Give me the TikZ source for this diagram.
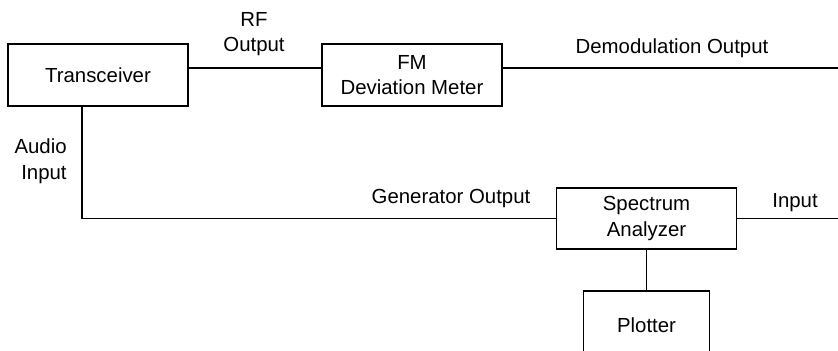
\documentclass[tikz,border=0pt]{standalone}
\usepackage{fontspec}
\setmainfont{Liberation Sans}
\usetikzlibrary{positioning}

\begin{document}
\begin{tikzpicture}[block/.style={draw, line width=0.7pt, minimum width=3.6cm,
                        minimum height=1.24cm, align=center},
                    wire/.style={line width=0.7pt},
                    lbl/.style={align=center, inner sep=0pt},
                    font=\fontsize{11.6}{14.6}\selectfont]
      \clip (0,0) rectangle (16.76,7);
      % Blocks
      \node (trans) [block] at (1.96,5.5) {Transceiver};
      \node (fm) [block] at (8.24,5.5) {FM\\Deviation Meter};
      \node (spec) [block, minimum height=1.22cm] at (12.93,2.63) {Spectrum\\Analyzer};
      \node (plot) [block, minimum width=2.52cm, minimum height=1.36cm] at (12.93,0.5) {Plotter};
      % Free ends at the right edge
      \coordinate (demodout) at (16.9,5.64);
      \coordinate (specin) at (16.9,2.63);
      % Connections
      \draw[wire] ([yshift=0.14cm]trans.east) -- ([yshift=0.14cm]fm.west);
      \draw[wire] ([yshift=0.14cm]fm.east) -- (demodout);
      \draw[wire] ([xshift=-0.32cm]trans.south) |- (spec.west);
      \draw[wire] (spec.east) -- (specin);
      \draw[wire] (spec.south) -- (plot.north);
      % Labels
      \node (rf) [lbl] at (5.08,6.32) {RF\\Output};
      \node (demod) [lbl] at (13.44,6.04) {Demodulation Output};
      \node (audio) [lbl, align=right, anchor=east] at (1.34,3.78) {Audio\\Input};
      \node (gen) [lbl] at (9.02,3.04) {Generator Output};
      \node (inp) [lbl] at (15.9,2.94) {Input};
\end{tikzpicture}
\end{document}
